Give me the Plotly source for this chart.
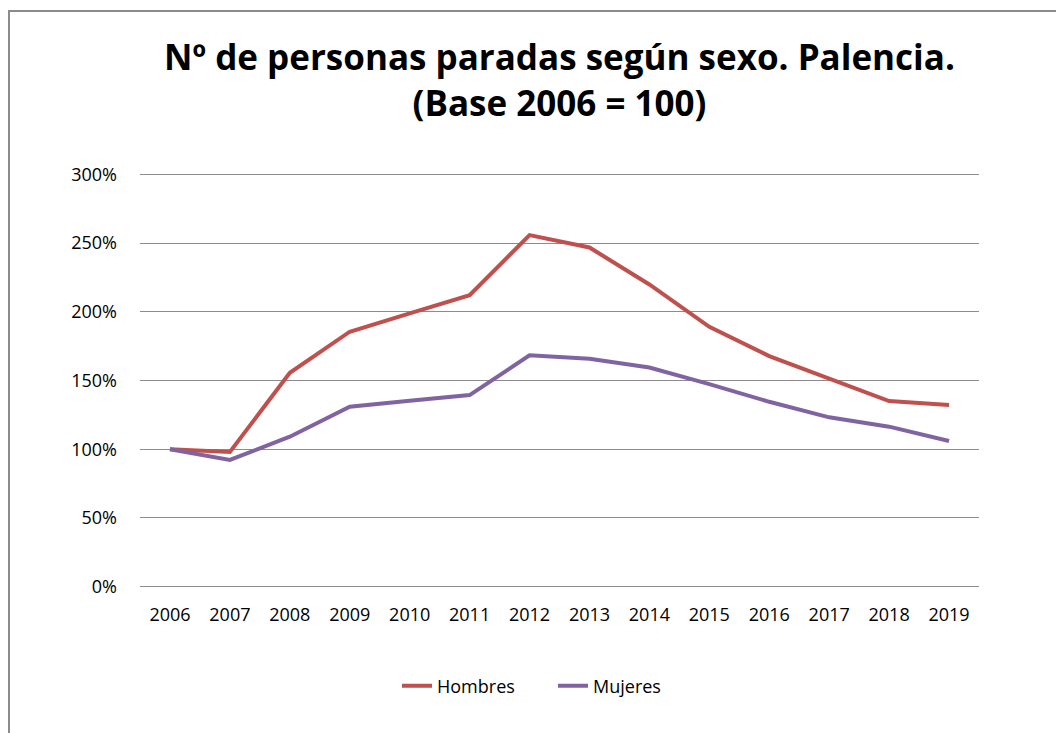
import plotly.graph_objects as go

years = ["2006", "2007", "2008", "2009", "2010", "2011", "2012",
         "2013", "2014", "2015", "2016", "2017", "2018", "2019"]
hombres = [100, 98, 155.6, 185.5, 198.8, 212.1, 255.8, 246.8, 219.9, 189.1, 167.8, 151.5, 135.0, 132.1]
mujeres = [100, 92.2, 109.1, 130.9, 135.3, 139.4, 168.3, 165.8, 159.5, 147.4, 134.5, 123.2, 116.4, 106.0]
y_ticks = [0, 50, 100, 150, 200, 250, 300]
y_labels = ["0%", "50%", "100%", "150%", "200%", "250%", "300%"]

FONT = "Open Sans"

fig = go.Figure()
fig.add_trace(go.Scatter(x=years, y=hombres, mode="lines", name="Hombres",
                         line=dict(color="#C0504D", width=4)))
fig.add_trace(go.Scatter(x=years, y=mujeres, mode="lines", name="Mujeres",
                         line=dict(color="#8064A2", width=4)))

W, H = 1056, 733
L, R, T, B = 140, 77, 173, 145
pw, ph = W - L - R, H - T - B

fig.update_layout(
    width=W, height=H,
    margin=dict(l=L, r=R, t=T, b=B),
    paper_bgcolor="white", plot_bgcolor="white",
    font=dict(family=FONT, size=18, color="#000000"),
    title=dict(text="Nº de personas paradas según sexo. Palencia.<br>(Base 2006 = 100)",
               x=0.5, xanchor="center", xref="paper", y=1 - 70 / H, yanchor="top",
               font=dict(family=FONT, size=35, color="#000000", weight="bold")),
    showlegend=True,
    legend=dict(orientation="h", x=0.5 + (553 - (L + pw / 2)) / pw, xanchor="center",
                y=-(686 - (T + ph)) / ph, yanchor="middle",
                font=dict(family=FONT, size=18), tracegroupgap=0,
                entrywidth=111, entrywidthmode="pixels",
                bgcolor="rgba(0,0,0,0)"),
    xaxis=dict(type="category", range=[-0.5, 13.5], showgrid=False, zeroline=False,
               showline=False, ticks="", tickfont=dict(size=18), ticklabelstandoff=14),
    yaxis=dict(range=[-1, 301], tickvals=y_ticks, ticktext=y_labels, showgrid=True,
               gridcolor="#8C8C8C", gridwidth=1, zeroline=False, showline=False,
               ticks="", tickfont=dict(size=18), ticklabelstandoff=22),
)

# Outer chart border (left and top edges visible; right/bottom off-canvas)
fig.add_shape(type="rect", xref="paper", yref="paper",
              x0=-(L - 9) / pw, x1=(W - L + 20) / pw,
              y0=-(B + 20) / ph, y1=1 + (T - 11) / ph,
              line=dict(color="#8C8C8C", width=2), fillcolor="rgba(0,0,0,0)",
              layer="above")

fig.write_html("out.html", config={"displayModeBar": False},
               post_script="document.body.style.margin='0';document.body.style.overflow='hidden';")
